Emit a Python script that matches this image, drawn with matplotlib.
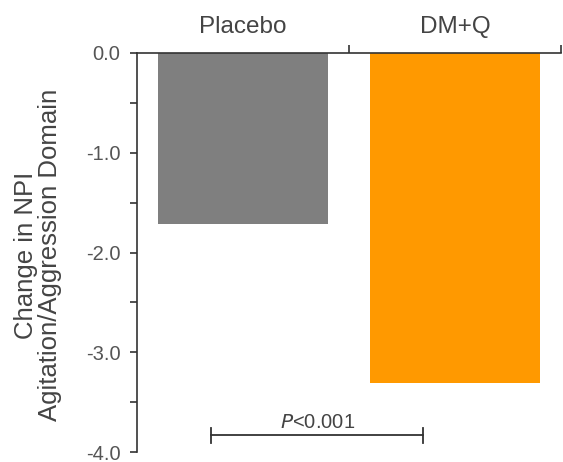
import numpy as np
import matplotlib
matplotlib.use("Agg")
import matplotlib.pyplot as plt
from matplotlib.ticker import MultipleLocator

plt.rcParams['font.family'] = ['Liberation Sans', 'DejaVu Sans']

groups = ['Placebo', 'DM+Q']
change = [-1.71, -3.31]
bar_colors = ['#7f7f7f', '#ff9900']
p_text = '$P$<0.001'
y_ticks = [0.0, -1.0, -2.0, -3.0, -4.0]

fig = plt.figure(figsize=(5.63, 4.62), dpi=100)
ax = fig.add_axes([137 / 563, 1 - 452 / 462, 424 / 563, 399 / 462])

x = np.arange(len(groups)) + 0.5
ax.bar(x, change, width=0.8, color=bar_colors)

ax.set_xlim(0, 2)
ax.set_ylim(-4, 0)

# spines
for s in ['bottom', 'right']:
    ax.spines[s].set_visible(False)
for s in ['top', 'left']:
    ax.spines[s].set_color('#333333')
    ax.spines[s].set_linewidth(1.2)

# y axis
ax.set_yticks(y_ticks)
ax.set_yticklabels(['%.1f' % v for v in y_ticks])
ax.yaxis.set_minor_locator(MultipleLocator(0.5))
ax.tick_params(axis='y', which='major', direction='out', length=5, width=1.2,
               color='#333333', labelsize=14.5, labelcolor='#555555', pad=7)
ax.tick_params(axis='y', which='minor', direction='out', length=5, width=1.2,
               color='#333333')

# x axis on top: ticks at boundaries, labels at centers
ax.xaxis.tick_top()
ax.set_xticks([1, 2])
ax.set_xticklabels([])
ax.set_xticks(x, minor=True)
ax.set_xticklabels(groups, minor=True)
ax.tick_params(axis='x', which='major', direction='out', length=6, width=1.2,
               color='#333333')
ax.tick_params(axis='x', which='minor', length=0, labelsize=17.5,
               labelcolor='#444444', pad=11)

fig.text(38 / 563, 1 - 255 / 462, 'Change in NPI\nAgitation/Aggression Domain',
         rotation=90, ha='center', va='center', multialignment='center',
         fontsize=18.5, color='#444444', linespacing=0.95)

# significance bracket
br_x0, br_x1, br_y, cap = 0.35, 1.35, -3.83, 0.075
ax.plot([br_x0, br_x1], [br_y, br_y], color='#333333', lw=1.3, clip_on=False)
ax.plot([br_x0, br_x0], [br_y - cap, br_y + cap], color='#333333', lw=1.3, clip_on=False)
ax.plot([br_x1, br_x1], [br_y - cap, br_y + cap], color='#333333', lw=1.3, clip_on=False)
ax.text((br_x0 + br_x1) / 2, br_y + 0.035, p_text, ha='center', va='bottom',
        fontsize=14.5, color='#444444')

fig.savefig('out.png', dpi=100)
